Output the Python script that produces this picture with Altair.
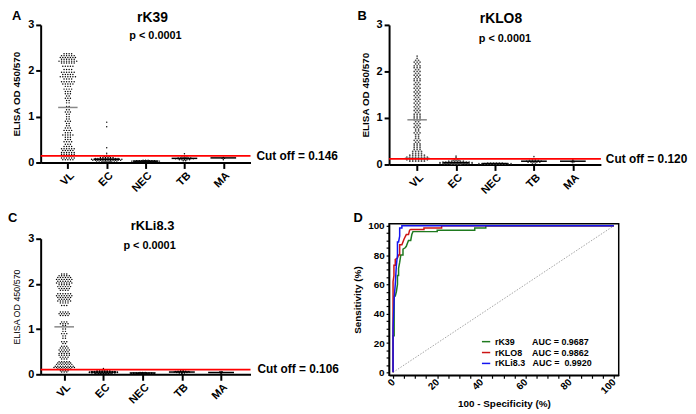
import altair as alt
import pandas as pd

FONT = "Liberation Sans"
CATEGORIES = ["VL", "EC", "NEC", "TB", "MA"]

# ---------------- Panel A : rK39 ----------------
K39_VL_LEVELS = [2.37, 2.33, 2.29, 2.25, 2.21, 2.17, 2.10, 2.03, 1.97, 1.92, 1.87, 1.82, 1.76, 1.71,
                 1.66, 1.60, 1.55, 1.50, 1.45, 1.40, 1.35, 1.30, 1.22, 1.15, 1.10, 1.05, 1.00, 0.95,
                 0.90, 0.85, 0.80, 0.75, 0.70, 0.65, 0.60, 0.55, 0.50, 0.45, 0.40, 0.35, 0.30, 0.26,
                 0.22, 0.18, 0.14, 0.10, 0.06]
K39_VL_COUNTS = [4, 6, 7, 6, 8, 6, 5, 4, 6, 5, 7, 4, 6, 5,
                 3, 4, 3, 3, 2, 3, 2, 2, 2, 2, 3, 2, 2, 2,
                 3, 2, 2, 3, 4, 3, 5, 3, 3, 4, 3, 4, 6, 5,
                 6, 6, 5, 6, 5]
K39_EC_LEVELS = [0.88, 0.78, 0.32, 0.20, 0.16, 0.13, 0.11, 0.09, 0.07, 0.05, 0.03, 0.01]
K39_EC_COUNTS = [1, 1, 1, 1, 1, 3, 6, 10, 13, 12, 9, 4]
K39_NEC_LEVELS = [0.05, 0.04, 0.03, 0.02, 0.01]
K39_NEC_COUNTS = [3, 8, 12, 9, 3]
K39_TB_LEVELS = [0.19, 0.15, 0.12, 0.10, 0.08, 0.06, 0.04]
K39_TB_COUNTS = [1, 2, 3, 6, 8, 5, 2]
K39_MA_LEVELS = [0.15, 0.11, 0.09, 0.06]
K39_MA_COUNTS = [1, 1, 2, 1]
K39_MEDIANS = [1.20, 0.07, 0.03, 0.09, 0.10]
K39_CUTOFF = 0.146

# ---------------- Panel B : rKLO8 ----------------
KLO8_VL_LEVELS = [2.33, 2.28, 2.24, 2.20, 2.16, 2.12, 2.08, 2.04, 2.00, 1.96, 1.92, 1.88, 1.84, 1.80,
                  1.76, 1.72, 1.68, 1.64, 1.60, 1.56, 1.52, 1.48, 1.44, 1.40, 1.36, 1.32, 1.28, 1.24,
                  1.20, 1.16, 1.12, 1.08, 1.04, 1.00, 0.96, 0.92, 0.88, 0.84, 0.80, 0.76, 0.72, 0.68,
                  0.64, 0.60, 0.56, 0.52, 0.48, 0.44, 0.40, 0.36, 0.32, 0.28, 0.24, 0.20, 0.16, 0.13,
                  0.10, 0.07]
KLO8_VL_COUNTS = [1, 1, 2, 3, 2, 3, 3, 2, 3, 2, 3, 2, 3, 3,
                  2, 3, 2, 3, 2, 3, 2, 3, 2, 3, 2, 3, 2, 3,
                  2, 3, 2, 3, 3, 3, 3, 2, 3, 2, 3, 2, 2, 3,
                  2, 2, 2, 3, 2, 3, 3, 3, 3, 4, 4, 6, 8, 9,
                  8, 6]
KLO8_EC_LEVELS = [0.18, 0.15, 0.12, 0.09, 0.07, 0.05, 0.04, 0.03, 0.02, 0.01]
KLO8_EC_COUNTS = [1, 1, 2, 3, 6, 10, 12, 12, 9, 4]
KLO8_NEC_LEVELS = [0.03, 0.02, 0.01]
KLO8_NEC_COUNTS = [6, 12, 8]
KLO8_TB_LEVELS = [0.17, 0.12, 0.09, 0.07, 0.05, 0.03]
KLO8_TB_COUNTS = [1, 2, 4, 6, 5, 2]
KLO8_MA_LEVELS = [0.10, 0.08, 0.06, 0.04]
KLO8_MA_COUNTS = [1, 1, 2, 1]
KLO8_MEDIANS = [0.96, 0.04, 0.02, 0.07, 0.07]
KLO8_CUTOFF = 0.120

# ---------------- Panel C : rKLi8.3 ----------------
KLI_VL_LEVELS = [2.22, 2.18, 2.14, 2.10, 2.06, 2.02, 1.98, 1.94, 1.90, 1.86, 1.78, 1.74, 1.70, 1.66,
                 1.62, 1.58, 1.52, 1.38, 1.34, 1.30, 1.16, 1.12, 1.08, 1.00, 0.95, 0.90, 0.85, 0.80,
                 0.72, 0.68, 0.62, 0.58, 0.54, 0.50, 0.46, 0.42, 0.38, 0.34, 0.28, 0.25, 0.22, 0.18,
                 0.15, 0.12, 0.08, 0.05]
KLI_VL_COUNTS = [3, 5, 6, 7, 6, 7, 5, 6, 5, 4, 6, 7, 6, 5,
                 6, 4, 3, 4, 5, 4, 3, 4, 2, 2, 2, 3, 2, 2,
                 3, 2, 3, 4, 5, 4, 5, 5, 4, 3, 5, 6, 7, 8,
                 9, 6, 4, 3]
KLI_EC_LEVELS = [0.13, 0.10, 0.08, 0.06, 0.05, 0.04, 0.03, 0.02, 0.01]
KLI_EC_COUNTS = [1, 3, 6, 10, 12, 12, 10, 7, 3]
KLI_NEC_LEVELS = [0.04, 0.03, 0.02, 0.01]
KLI_NEC_COUNTS = [3, 8, 10, 5]
KLI_TB_LEVELS = [0.08, 0.07, 0.06, 0.05, 0.04, 0.03, 0.02]
KLI_TB_COUNTS = [2, 4, 6, 7, 5, 3, 1]
KLI_MA_LEVELS = [0.06, 0.05, 0.04, 0.03, 0.02]
KLI_MA_COUNTS = [1, 2, 2, 1, 1]
KLI_MEDIANS = [1.05, 0.05, 0.03, 0.05, 0.04]
KLI_CUTOFF = 0.106

# ---------------- Panel D : ROC curves ----------------
ROC_SERIES = ["rK39", "rKLO8", "rKLi8.3"]
ROC_COLORS = ["#1f7a1f", "#cc1414", "#1414f0"]
K39_FPR = [0, 0, 0.5, 0.5, 1, 1.5, 2, 2, 2.5, 2.5, 3, 3.5, 4.5, 4.5, 5.5, 6, 6.5, 7, 8, 8.5, 9, 10, 20, 20, 37, 37, 42, 42, 100]
K39_TPR = [0, 25, 25, 52, 52, 55, 60, 66, 66, 71, 75, 80, 80, 84, 85, 86, 88, 90, 90, 94, 96, 96, 96, 97, 97, 98.5, 98.5, 100, 100]
KLO8_FPR = [0, 0, 0.4, 0.4, 1, 1, 2, 2.5, 3, 3, 4, 5, 6, 7, 7.5, 8, 14, 14, 22, 22, 100]
KLO8_TPR = [0, 62, 66, 73, 73, 77, 78, 80, 80, 87, 87, 91, 94, 94, 97, 97.5, 97.5, 98.5, 98.5, 100, 100]
KLI_FPR = [0, 0, 0.5, 1, 1.5, 2, 2, 2.5, 3, 3, 4, 4, 100]
KLI_TPR = [0, 30, 50, 60, 73, 80, 89, 89, 93, 98.5, 98.5, 100, 100]


def build_dots(spec):
    rows = []
    for gi, (levels, counts) in enumerate(spec):
        for lv, c in zip(levels, counts):
            for _ in range(c):
                rows.append({"g": gi, "v": lv})
    return pd.DataFrame(rows)


LABEL_EXPR = "[" + ",".join(f"'{c}'" for c in CATEGORIES) + "][datum.value]"


def dot_panel(spec, medians, cutoff, name, letter, width, height, xdom,
              letter_xy, title_xy, title_fs, p_xy, cut_dx, ytitle_fs, ytitle_weight,
              dot_color, dot_size, step):
    df = build_dots(spec)
    xs = alt.Scale(domain=xdom, nice=False, zero=False)
    ys = alt.Scale(domain=[0, 3], nice=False)
    xaxis = alt.Axis(values=[0, 1, 2, 3, 4], labelExpr=LABEL_EXPR, labelAngle=-45,
                     labelAlign="right", labelBaseline="top", grid=False,
                     domainColor="black", domainWidth=2, tickColor="black", tickWidth=2,
                     tickSize=6, labelFontSize=11, labelFontWeight="bold", labelColor="black",
                     labelPadding=1, labelFont=FONT)
    yaxis = alt.Axis(values=[0, 1, 2, 3], grid=False, domainColor="black", domainWidth=2,
                     tickColor="black", tickWidth=2, tickSize=5, labelFontSize=11,
                     labelFontWeight="bold", labelColor="black", labelPadding=2,
                     titleFontSize=ytitle_fs, titleFontWeight=ytitle_weight, titleColor="black",
                     titlePadding=6, format="d", labelFont=FONT, titleFont=FONT)
    YT = "ELISA OD 450/570"

    def X(field):
        return alt.X(field, type="quantitative", scale=xs, axis=xaxis, title=None)

    def Y(field):
        return alt.Y(field, type="quantitative", scale=ys, axis=yaxis, title=YT)

    # centred beeswarm: each value row is spread symmetrically around its category
    pts = alt.Chart(df).transform_window(
        k="row_number()", groupby=["g", "v"]
    ).transform_joinaggregate(
        n="count()", groupby=["g", "v"]
    ).transform_calculate(
        xo=f"datum.g + (datum.k - (datum.n + 1) / 2) * {step}"
    ).mark_circle(size=dot_size, color=dot_color, opacity=1).encode(x=X("xo"), y=Y("v"))

    med_df = pd.DataFrame({"g": list(range(len(medians))), "m": medians,
                           "col": ["#888888"] + ["black"] * (len(medians) - 1)})
    med = alt.Chart(med_df).transform_calculate(
        x1="datum.g - (datum.g == 0 ? 0.25 : 0.33)",
        x2="datum.g + (datum.g == 0 ? 0.25 : 0.33)",
    ).mark_rule(strokeWidth=1.5).encode(
        x=X("x1"), x2="x2:Q", y=Y("m"), color=alt.Color("col:N", scale=None)
    )

    cut_df = pd.DataFrame({"c": [cutoff], "label": [f"Cut off = {cutoff:.3f}"]})
    cut_rule = alt.Chart(cut_df).mark_rule(color="#ff0000", strokeWidth=1.8).encode(
        y=Y("c"), x=alt.value(0), x2=alt.value(width))
    cut_text = alt.Chart(cut_df).mark_text(
        align="left", baseline="middle", fontSize=12, fontWeight="bold", font=FONT,
        color="black", dx=cut_dx
    ).encode(y=Y("c"), x=alt.value(width), text="label:N")

    ann = pd.DataFrame({"t": [name]})
    title = alt.Chart(ann).mark_text(align="center", baseline="alphabetic", fontSize=title_fs,
                                     fontWeight="bold", font=FONT, color="black").encode(
        x=alt.value(title_xy[0]), y=alt.value(title_xy[1]), text="t:N")
    pdf = pd.DataFrame({"t": ["p < 0.0001"]})
    ptxt = alt.Chart(pdf).mark_text(align="center", baseline="middle", fontSize=11,
                                    fontWeight="bold", font=FONT, color="black").encode(
        x=alt.value(p_xy[0]), y=alt.value(p_xy[1]), text="t:N")
    ldf = pd.DataFrame({"t": [letter]})
    let = alt.Chart(ldf).mark_text(align="left", baseline="top", fontSize=13,
                                   fontWeight="bold", font=FONT, color="black").encode(
        x=alt.value(letter_xy[0]), y=alt.value(letter_xy[1]), text="t:N")

    return alt.layer(pts, med, cut_rule, cut_text, title, ptxt, let).properties(
        width=width, height=height, view=alt.ViewBackground(stroke=None))


A = dot_panel([(K39_VL_LEVELS, K39_VL_COUNTS), (K39_EC_LEVELS, K39_EC_COUNTS),
               (K39_NEC_LEVELS, K39_NEC_COUNTS), (K39_TB_LEVELS, K39_TB_COUNTS),
               (K39_MA_LEVELS, K39_MA_COUNTS)],
              K39_MEDIANS, K39_CUTOFF, "rK39", "A", 212, 139, [-0.7, 4.7],
              (-29, -15), (113, -3), 14, (116, 11), 6, 10, "bold", "black", 2.2, 0.065)
B = dot_panel([(KLO8_VL_LEVELS, KLO8_VL_COUNTS), (KLO8_EC_LEVELS, KLO8_EC_COUNTS),
               (KLO8_NEC_LEVELS, KLO8_NEC_COUNTS), (KLO8_TB_LEVELS, KLO8_TB_COUNTS),
               (KLO8_MA_LEVELS, KLO8_MA_COUNTS)],
              KLO8_MEDIANS, KLO8_CUTOFF, "rKLO8", "B", 214, 141, [-0.72, 4.72],
              (-32, -15), (113, -2), 14, (117, 14), 5, 10, "bold", "#4d4d4d", 3.2, 0.075)
C = dot_panel([(KLI_VL_LEVELS, KLI_VL_COUNTS), (KLI_EC_LEVELS, KLI_EC_COUNTS),
               (KLI_NEC_LEVELS, KLI_NEC_COUNTS), (KLI_TB_LEVELS, KLI_TB_COUNTS),
               (KLI_MA_LEVELS, KLI_MA_COUNTS)],
              KLI_MEDIANS, KLI_CUTOFF, "rKLi8.3", "C", 212, 137, [-0.6, 4.75],
              (-33, -27), (113, -9), 13, (110, 7), 7, 9, "normal", "black", 2.2, 0.065)

# ---- ROC panel
roc_rows = []
for s, fx, fy in [(ROC_SERIES[0], K39_FPR, K39_TPR), (ROC_SERIES[1], KLO8_FPR, KLO8_TPR),
                  (ROC_SERIES[2], KLI_FPR, KLI_TPR)]:
    for i, (a, b) in enumerate(zip(fx, fy)):
        roc_rows.append({"series": s, "fpr": a, "tpr": b, "i": i})
roc_df = pd.DataFrame(roc_rows)

DW, DH = 232, 153
dxs = alt.Scale(domain=[-1.8, 102.2], nice=False, zero=False)
dys = alt.Scale(domain=[-2, 101.3], nice=False, zero=False)
tick_vals = list(range(0, 101, 5))
dxaxis = alt.Axis(values=tick_vals, labelExpr="datum.value % 20 == 0 ? datum.label : ''",
                  labelAngle=-45, labelAlign="right", labelBaseline="middle", grid=False,
                  domainColor="black", domainWidth=1.5, tickColor="black", tickWidth=1.2,
                  tickSize=3, labelFontSize=10, labelFontWeight="bold", labelColor="black",
                  labelPadding=2, labelOverlap=False, titleFontSize=10, titleFontWeight="bold",
                  titleColor="black", titlePadding=3, labelFont=FONT, titleFont=FONT)
dyaxis = alt.Axis(values=tick_vals, labelExpr="datum.value % 20 == 0 ? datum.label : ''",
                  grid=False, domainColor="black", domainWidth=1.5, tickColor="black",
                  tickWidth=1.2, tickSize=3, labelFontSize=10, labelFontWeight="bold",
                  labelColor="black", labelPadding=2, labelOverlap=False, titleFontSize=10,
                  titleFontWeight="bold", titleColor="black", titlePadding=5,
                  labelFont=FONT, titleFont=FONT)
XT = "100 - Specificity (%)"
YT2 = "Sensitivity (%)"

legend_expr = ("datum.label == 'rK39' ? 'rK39\u00a0\u00a0\u00a0\u00a0\u00a0\u00a0\u00a0AUC = 0.9687' : "
               "datum.label == 'rKLO8' ? 'rKLO8\u00a0\u00a0\u00a0\u00a0AUC = 0.9862' : "
               "'rKLi8.3\u00a0\u00a0\u00a0AUC =\u00a0 0.9920'")

diag_df = pd.DataFrame({"fpr": [0, 100], "tpr": [0, 100]})
diag = alt.Chart(diag_df).mark_line(color="#8c8c8c", strokeWidth=0.8, strokeDash=[1.5, 1.5]).encode(
    x=alt.X("fpr:Q", scale=dxs, axis=dxaxis, title=XT),
    y=alt.Y("tpr:Q", scale=dys, axis=dyaxis, title=YT2))
roc = alt.Chart(roc_df).mark_line(strokeWidth=1.5).encode(
    x=alt.X("fpr:Q", scale=dxs, axis=dxaxis, title=XT),
    y=alt.Y("tpr:Q", scale=dys, axis=dyaxis, title=YT2),
    color=alt.Color("series:N", scale=alt.Scale(domain=ROC_SERIES, range=ROC_COLORS),
                    legend=alt.Legend(orient="none", legendX=93, legendY=114, title=None,
                                      symbolType="stroke", symbolSize=70, symbolStrokeWidth=1.5,
                                      labelFontSize=9, labelFontWeight="bold", labelColor="black",
                                      labelFont=FONT, rowPadding=1, labelExpr=legend_expr,
                                      labelLimit=300)),
    order="i:Q")
dlet = alt.Chart(pd.DataFrame({"t": ["D"]})).mark_text(
    align="left", baseline="top", fontSize=13, fontWeight="bold", font=FONT, color="black"
).encode(x=alt.value(-36), y=alt.value(-12), text="t:N")
D = alt.layer(diag, roc, dlet).properties(
    width=DW, height=DH, view=alt.ViewBackground(stroke="black", strokeWidth=1.5))

col1 = alt.vconcat(A, C, spacing=18).resolve_scale(color="independent")
col2 = alt.vconcat(B, D, spacing=15).resolve_scale(color="independent")

chart = alt.hconcat(col1, col2, spacing=12).resolve_scale(color="independent").properties(
    padding=0).configure(font=FONT).configure_view(stroke=None)

chart.save("out.html", embed_options={"renderer": "svg", "actions": False})
